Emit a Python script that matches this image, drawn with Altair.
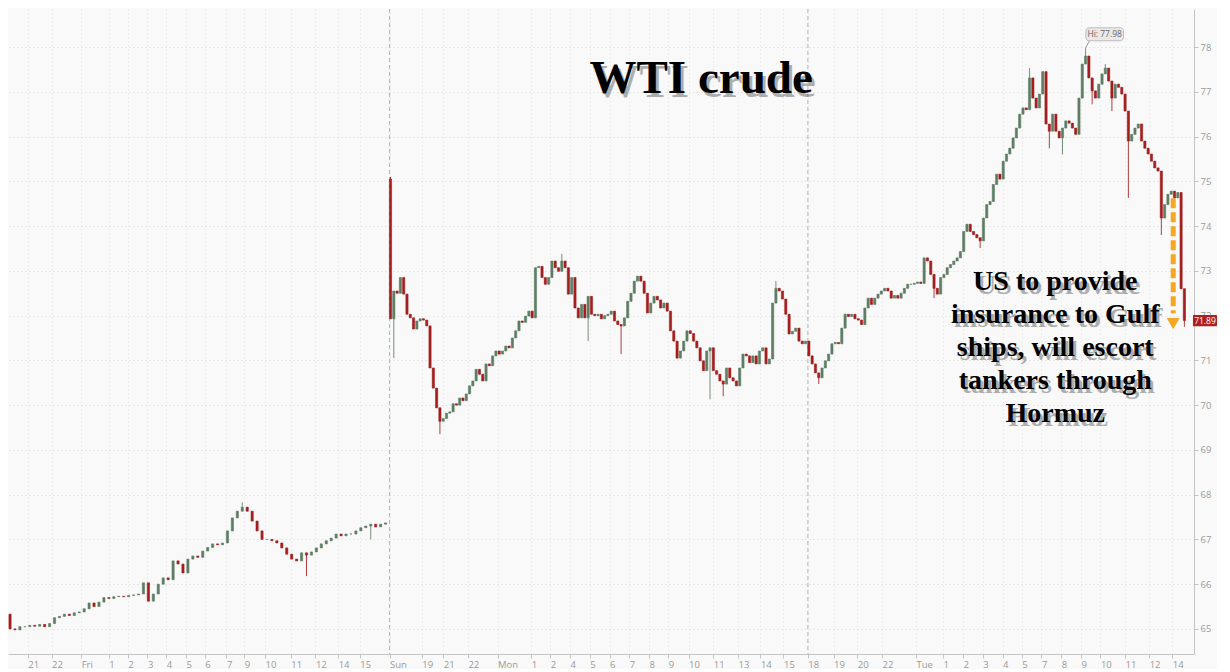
import altair as alt
import pandas as pd

# ---------------- data ----------------
fri_open = 65.40
fri_close = [65.33, 65.00, 64.98, 65.05, 65.05, 65.08, 65.06, 65.10, 65.05, 65.12,
             65.25, 65.28, 65.33, 65.30, 65.36, 65.38, 65.45, 65.58, 65.50, 65.60,
             65.70, 65.68, 65.72, 65.73, 65.72, 65.75, 65.76, 65.78, 66.03, 65.62,
             65.78, 66.00, 66.14, 66.10, 66.52, 66.45, 66.25, 66.56, 66.63, 66.60,
             66.74, 66.82, 66.90, 66.88, 66.92, 67.19, 67.48, 67.63, 67.72, 67.63,
             67.41, 67.19, 67.00, 67.00, 66.97, 66.92, 66.81, 66.67, 66.56, 66.52,
             66.70, 66.65, 66.72, 66.81, 66.90, 66.97, 67.03, 67.12, 67.08, 67.12,
             67.12, 67.19, 67.26, 67.30, 67.34, 67.28, 67.34, 67.37]

mon_open = 75.05
mon_close = [71.93,
             72.55, 72.50, 72.85, 72.48, 72.03, 71.95, 71.70, 71.88, 71.93,
             71.90, 71.77, 70.83, 70.38, 69.94, 69.64, 69.70, 69.82, 69.85, 70.03,
             70.00, 70.16, 70.10, 70.25, 70.43, 70.54, 70.80, 70.69, 70.54, 70.92,
             70.88, 71.10, 71.21, 71.14, 71.21, 71.32, 71.28, 71.50, 71.66, 71.88,
             71.85, 71.99, 72.10, 71.95, 73.07, 73.10, 72.85, 72.70, 72.85, 73.22,
             73.07, 72.99, 73.22, 73.07, 72.48, 72.85, 72.17, 71.95, 72.25, 71.95,
             72.43, 72.03, 72.00, 72.03, 71.93, 72.00, 72.03, 72.10, 71.88, 71.80,
             71.77, 71.95, 72.32, 72.50, 72.77, 72.88, 72.77, 72.50, 72.06, 72.28,
             72.43, 72.35, 72.17, 72.28, 72.10, 71.66, 71.43, 71.05, 71.21, 71.43,
             71.66, 71.60, 71.43, 71.28, 70.99, 70.77, 71.21, 71.28, 70.77, 70.69,
             70.54, 70.47, 70.83, 70.61, 70.54, 70.43, 70.83, 71.14, 71.10, 70.95,
             71.10, 70.92, 71.21, 71.28, 70.92, 71.03, 72.28, 72.61, 72.55, 72.37,
             72.03, 71.59, 71.65]

tue_close = [71.72, 71.43, 71.37, 71.43, 71.10, 70.92, 70.72, 70.61, 70.83, 70.99,
             71.14, 71.37, 71.40, 71.37, 71.72, 72.03, 71.98, 72.03, 71.93, 71.90,
             71.80, 72.17, 72.39, 72.25, 72.39, 72.48, 72.55, 72.61, 72.55, 72.39,
             72.45, 72.39, 72.50, 72.61, 72.70, 72.70, 72.72, 72.75, 72.72, 73.29,
             73.22, 72.92, 72.61, 72.48, 72.85, 72.92, 73.07, 73.14, 73.22, 73.29,
             73.43, 73.88, 74.04, 73.88, 73.81, 73.74, 73.67, 74.18, 74.48, 74.55,
             74.93, 75.16, 75.05, 75.45, 75.61, 75.74, 75.97, 76.19, 76.50, 76.64,
             76.60, 77.31, 76.86, 76.64, 76.95, 77.45, 76.28, 76.12, 76.50, 76.12,
             75.97, 76.19, 76.35, 76.30, 76.19, 76.05, 76.86, 77.62, 77.80, 77.31,
             77.02, 76.86, 77.17, 77.40, 77.53, 77.24, 76.86, 77.17, 77.10, 76.95,
             76.57, 75.90, 76.05, 76.19, 76.28, 75.90, 75.74, 75.61, 75.45, 75.30,
             75.23, 74.18, 74.48, 74.71, 74.78, 74.63, 74.75, 72.60, 71.89]

low_wick_slot = [91.5, 111, 118, 132, 177, 187, 214, 218, 247, 282, 296, 317, 321, 330, 336, 341, 351, 358]
low_wick_val = [66.18, 67.00, 71.05, 69.35, 71.43, 71.14, 70.13, 70.20, 70.47, 72.39, 73.51, 75.74, 75.60, 76.72, 76.57, 74.63, 73.80, 71.75]
high_wick_slot = [72, 117, 169, 234, 311, 328, 334]
high_wick_val = [67.83, 75.10, 73.38, 72.77, 77.53, 77.98, 77.62]

tick_slots = [6.9, 14.1, 23.1, 31.5, 37.2, 43.2, 48.9, 54.9, 60.6, 67.2, 72.6, 78.9,
              86.7, 94.2, 101.1, 107.7, 116.7,
              126.5, 133.0, 140.5, 149.5, 159.7, 165.5, 171.5, 177.5, 183.5, 189.5,
              195.5, 201.3, 207.5, 215.0, 222.5, 229.3, 236.3, 243.7,
              251.5, 258.7, 266.2, 276.5, 284.7, 290.8, 296.8, 302.8, 308.6, 314.6,
              320.6, 326.6, 332.5, 340.0, 347.3, 354.3]
tick_labels = ["21", "22", "Fri", "1", "2", "3", "4", "5", "6", "7", "9", "10",
               "11", "12", "14", "15", "Sun",
               "19", "21", "22", "Mon", "1", "2", "4", "5", "6", "7",
               "8", "9", "10", "11", "13", "14", "15", "18",
               "19", "20", "22", "Tue", "1", "2", "3", "4", "5", "7",
               "8", "9", "10", "11", "12", "14"]
price_ticks = [65, 66, 67, 68, 69, 70, 71, 72, 73, 74, 75, 76, 77, 78]
session_breaks = [116.7, 243.7]

hi_value = 77.98
last_value = 71.89
title_text = "WTI crude"
note_text = "US to provide\ninsurance to Gulf\nships, will escort\ntankers through\nHormuz"

# ---------------- build table ----------------
def build(start, step, open0, closes):
    rows, prev = [], open0
    for i, c in enumerate(closes):
        rows.append({"s": round(start + step * i, 2), "o": prev, "c": c})
        prev = c
    return rows

rows = (build(0, 1.5, fri_open, fri_close)
        + build(117, 1, mon_open, mon_close)
        + build(240, 1, mon_close[-1], tue_close))
df = pd.DataFrame(rows)
lw = dict(zip(low_wick_slot, low_wick_val))
hw = dict(zip(high_wick_slot, high_wick_val))
df["lo"] = [min(o, c, lw.get(s, 999)) for s, o, c in zip(df.s, df.o, df.c)]
df["hi"] = [max(o, c, hw.get(s, -999)) for s, o, c in zip(df.s, df.o, df.c)]
df["dir"] = ["up" if c >= o else "down" for o, c in zip(df.o, df.c)]

UP, DOWN = "#5e7d64", "#a31f1f"
AX = "#9a9a9a"
W, H = 1186, 645
xs = alt.Scale(domain=[2.4, 359.4], nice=False, zero=False)
ys = alt.Scale(domain=[64.44, 78.85], nice=False, zero=False)

label_expr = ("[" + ",".join("'%s'" % l for l in tick_labels) + "][indexof(["
              + ",".join(str(v) for v in tick_slots) + "], datum.value)]")
x_axis = alt.Axis(values=tick_slots, labelExpr=label_expr, title=None, grid=True,
                  gridColor="#e2e2e2", gridDash=[1, 3],
                  labelAlign="left", labelColor=AX, labelFontSize=9.5,
                  labelFont="Open Sans", tickSize=4, tickColor="#c4c4c4",
                  domainColor="#c4c4c4", labelPadding=1, labelOverlap=False)
y_axis = alt.Axis(values=price_ticks, orient="right", title=None, grid=True,
                  gridColor="#d6d6d6", gridDash=[1, 3], labelColor=AX,
                  labelFontSize=9.5, labelFont="Open Sans", tickSize=4,
                  tickColor="#c4c4c4", domainColor="#c4c4c4", labelPadding=2)

color = alt.Color("dir:N", scale=alt.Scale(domain=["up", "down"], range=[UP, DOWN]), legend=None)

base = alt.Chart(df)
wicks = base.mark_rule(strokeWidth=1, clip=True, opacity=0.85).encode(
    x=alt.X("s:Q", scale=xs, axis=x_axis),
    y=alt.Y("lo:Q", scale=ys, axis=y_axis), y2="hi:Q", color=color)
bodies = base.mark_bar(size=2.2, clip=True, strokeWidth=0.6).encode(
    x=alt.X("s:Q", scale=xs, axis=x_axis),
    y=alt.Y("o:Q", scale=ys, axis=y_axis), y2="c:Q", color=color, stroke=color)

# session separators
sess = alt.Chart(pd.DataFrame({"s": session_breaks})).mark_rule(
    color="#b5b5b5", strokeDash=[4, 3], strokeWidth=1).encode(
    x=alt.X("s:Q", scale=xs, axis=x_axis))

# Hi label
hi_df = pd.DataFrame({"s": [328.1], "s2": [339.5], "p": [78.14], "p2": [78.43],
                      "tx": [333.8], "tp": [78.285], "lab": ["Hi: %.2f" % hi_value],
                      "ps": [328.0], "pp": [hi_value], "ps2": [329.2], "pp2": [78.14]})
hi_line = alt.Chart(hi_df).mark_rule(color="#9a9a9a", strokeWidth=1).encode(
    x=alt.X("ps:Q", scale=xs, axis=x_axis), x2="ps2:Q",
    y=alt.Y("pp:Q", scale=ys, axis=y_axis), y2="pp2:Q")
hi_box = alt.Chart(hi_df).mark_rect(fill="#e9e9e9", stroke="#b0b0b0", strokeWidth=0.8,
                                    cornerRadius=3).encode(
    x=alt.X("s:Q", scale=xs, axis=x_axis), x2="s2:Q",
    y=alt.Y("p:Q", scale=ys, axis=y_axis), y2="p2:Q")
hi_txt = alt.Chart(hi_df).mark_text(fontSize=8.5, color="#666", font="Open Sans").encode(
    x=alt.X("tx:Q", scale=xs, axis=x_axis), y=alt.Y("tp:Q", scale=ys, axis=y_axis),
    text="lab:N")

# last price label
lp_df = pd.DataFrame({"s": [360.6], "s2": [367.9], "p": [last_value - 0.125],
                      "p2": [last_value + 0.125], "tx": [364.25], "tp": [last_value],
                      "lab": ["%.2f" % last_value]})
lp_box = alt.Chart(lp_df).mark_rect(fill="#b01e1e", cornerRadius=1).encode(
    x=alt.X("s:Q", scale=xs, axis=x_axis), x2="s2:Q",
    y=alt.Y("p:Q", scale=ys, axis=y_axis), y2="p2:Q")
lp_txt = alt.Chart(lp_df).mark_text(fontSize=8.5, color="white", font="Open Sans").encode(
    x=alt.X("tx:Q", scale=xs, axis=x_axis), y=alt.Y("tp:Q", scale=ys, axis=y_axis),
    text="lab:N")

# title with shadow
t_df = pd.DataFrame({"s": [211.3], "p": [76.97], "lab": [title_text]})
def title_layer(dx, dy, col, op):
    return alt.Chart(t_df).mark_text(font="Liberation Serif", fontWeight="bold",
                                     fontSize=47, baseline="alphabetic", dx=dx, dy=dy,
                                     color=col, opacity=op).encode(
        x=alt.X("s:Q", scale=xs, axis=x_axis), y=alt.Y("p:Q", scale=ys, axis=y_axis),
        text="lab:N")

# annotation with shadow (first line centred at p)
n_df = pd.DataFrame({"s": [318.8], "p": [72.75], "lab": [note_text]})
def note_layer(dx, dy, col, op):
    return alt.Chart(n_df).mark_text(font="Liberation Serif", fontWeight="bold",
                                     fontSize=28, lineBreak="\n", lineHeight=33.0,
                                     baseline="middle", dx=dx, dy=dy,
                                     color=col, opacity=op).encode(
        x=alt.X("s:Q", scale=xs, axis=x_axis), y=alt.Y("p:Q", scale=ys, axis=y_axis),
        text="lab:N")

# arrow
a_df = pd.DataFrame({"s": [354.6], "p": [74.62], "p2": [72.05], "pt": [71.82]})
arrow_line = alt.Chart(a_df).mark_rule(color="#f5a623", strokeWidth=5,
                                       strokeDash=[10, 4]).encode(
    x=alt.X("s:Q", scale=xs, axis=x_axis), y=alt.Y("p:Q", scale=ys, axis=y_axis), y2="p2:Q")
arrow_head = alt.Chart(a_df).mark_point(shape="triangle-down", size=170, filled=True,
                                        color="#f5a623", opacity=1).encode(
    x=alt.X("s:Q", scale=xs, axis=x_axis), y=alt.Y("pt:Q", scale=ys, axis=y_axis))

chart = alt.layer(
    sess, wicks, bodies, hi_line, hi_box, hi_txt, lp_box, lp_txt,
    title_layer(3, 4, "#000", 0.3), title_layer(0, 0, "#000", 1),
    note_layer(3, 4, "#000", 0.3), note_layer(0, 0, "#000", 1),
    arrow_line, arrow_head,
).properties(
    width=W, height=H, padding=0, background="#f9f9f9"
).configure_view(stroke=None)

chart.save("out.html", embed_options={"renderer": "svg", "actions": False})
